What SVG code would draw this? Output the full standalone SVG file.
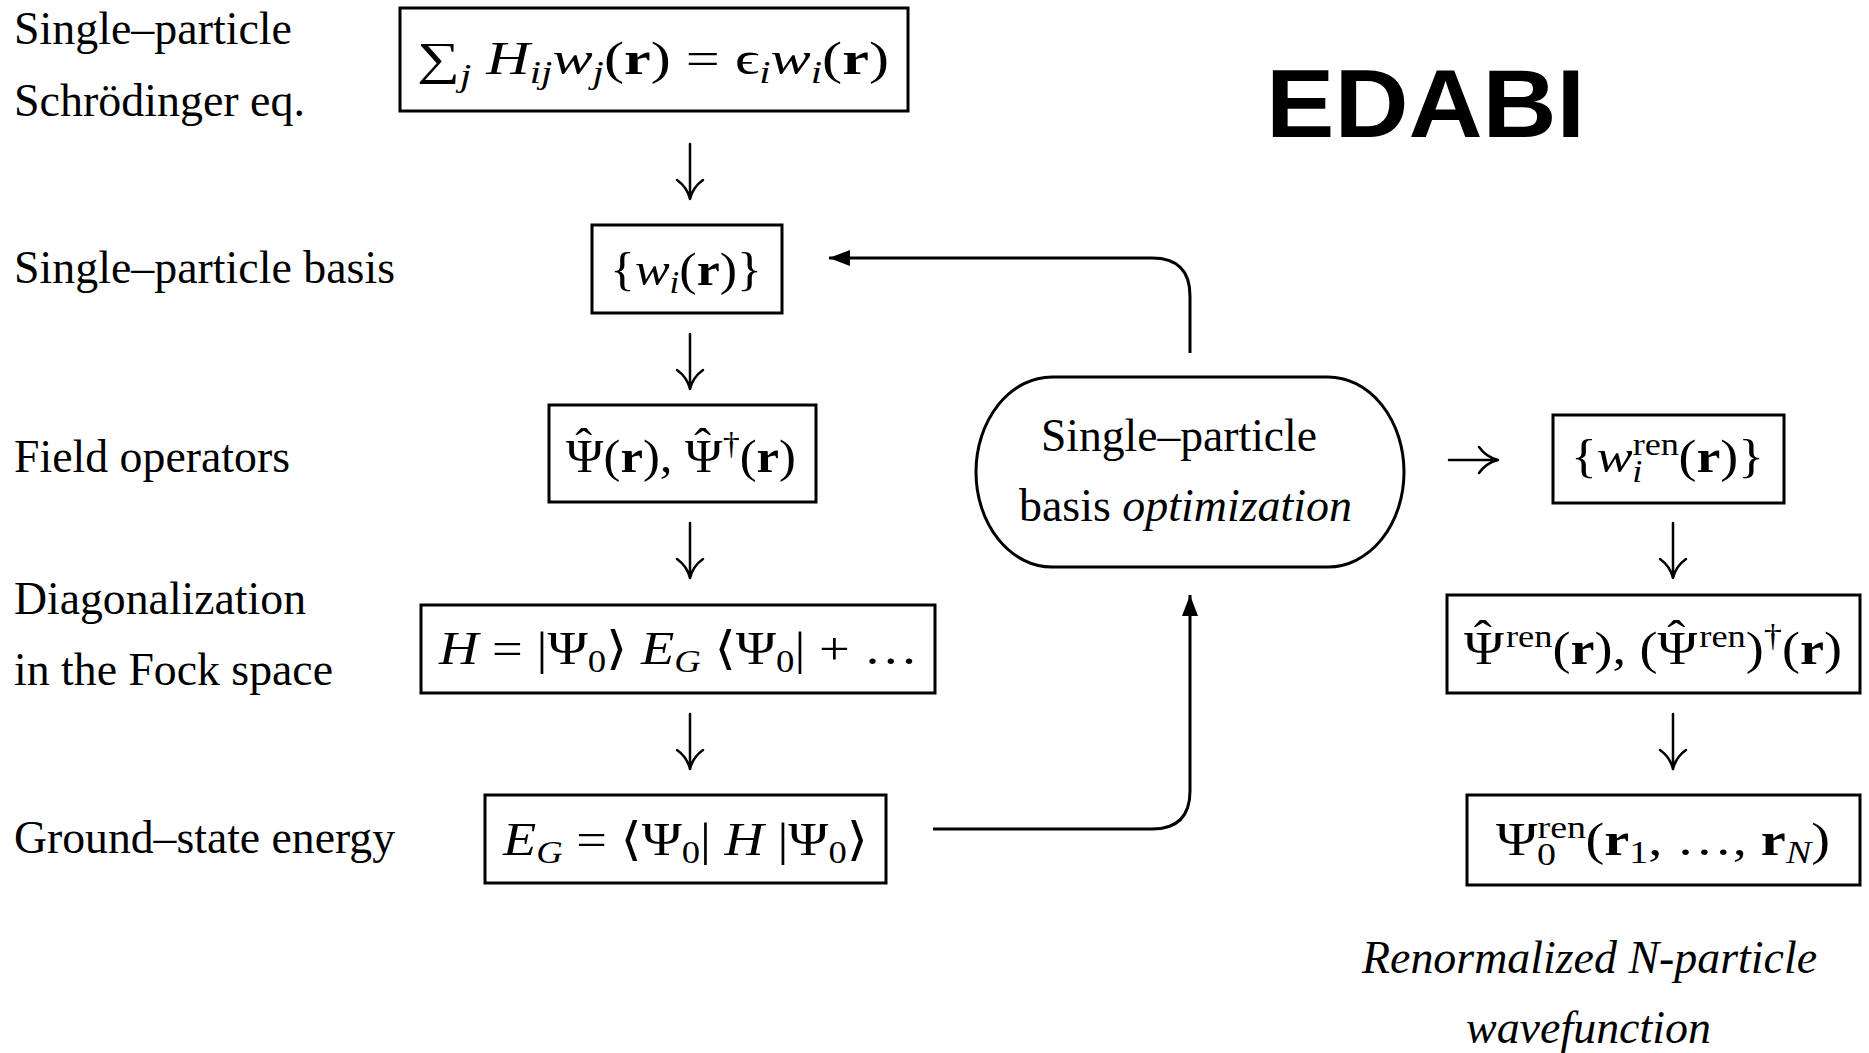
<svg xmlns="http://www.w3.org/2000/svg" width="1869" height="1053" viewBox="0 0 1869 1053">
<style>
.lbl{font-family:'Liberation Serif','Times New Roman',serif;font-size:46px;fill:#000}
.m{font-family:'Liberation Serif','DejaVu Serif',serif;font-size:46px;fill:#000}
.it{font-style:italic}
.b{font-weight:bold}
.s{font-size:31px}
.box{fill:#fff;stroke:#000;stroke-width:3}
.con{fill:none;stroke:#000;stroke-width:3}
.tarr{fill:none;stroke:#000;stroke-width:2.5;stroke-linecap:round}
.title{font-family:'Liberation Sans',Arial,sans-serif;font-weight:bold;font-size:96px;fill:#000}
</style>
<defs>
<path id="da" class="tarr" d="M0,-55 V0 M-13,-19 Q-3,-12 0,0 M13,-19 Q3,-12 0,0"/>
<marker id="ah" markerUnits="userSpaceOnUse" markerWidth="24" markerHeight="18" refX="21" refY="8" orient="auto"><path d="M0,0 L21,8 L0,16 z" fill="#000"/></marker>
</defs>
<rect width="1869" height="1053" fill="#fff"/>

<g id="labels">
<text class="lbl" x="14" y="44" textLength="278" lengthAdjust="spacingAndGlyphs">Single–particle</text>
<text class="lbl" x="14" y="116" textLength="291" lengthAdjust="spacingAndGlyphs">Schrödinger eq.</text>
<text class="lbl" x="14" y="283" textLength="381" lengthAdjust="spacingAndGlyphs">Single–particle basis</text>
<text class="lbl" x="14" y="472" textLength="276" lengthAdjust="spacingAndGlyphs">Field operators</text>
<text class="lbl" x="14" y="614" textLength="292" lengthAdjust="spacingAndGlyphs">Diagonalization</text>
<text class="lbl" x="14" y="685" textLength="319" lengthAdjust="spacingAndGlyphs">in the Fock space</text>
<text class="lbl" x="14" y="853" textLength="381" lengthAdjust="spacingAndGlyphs">Ground–state energy</text>
</g>

<g id="title"><text class="title" x="1266" y="137" textLength="319" lengthAdjust="spacingAndGlyphs">EDABI</text></g>

<g id="n-schrodinger">
<rect class="box" x="400" y="8" width="508" height="103"/>
<text class="m" x="417" y="74" textLength="472" lengthAdjust="spacingAndGlyphs">∑<tspan class="it s" dy="12">j</tspan><tspan class="it" dy="-12"> H</tspan><tspan class="it s" dy="9">ij</tspan><tspan class="it" dy="-9">w</tspan><tspan class="it s" dy="9">j</tspan><tspan dy="-9">(</tspan><tspan class="b">r</tspan>) = ϵ<tspan class="it s" dy="9">i</tspan><tspan class="it" dy="-9">w</tspan><tspan class="it s" dy="9">i</tspan><tspan dy="-9">(</tspan><tspan class="b">r</tspan>)</text>
</g>

<g id="n-basis">
<rect class="box" x="592" y="225" width="190" height="88"/>
<text class="m" x="610" y="285" textLength="152" lengthAdjust="spacingAndGlyphs">{<tspan class="it">w</tspan><tspan class="it s" dy="8">i</tspan><tspan dy="-8">(</tspan><tspan class="b">r</tspan>)}</text>
</g>

<g id="n-field">
<rect class="box" x="549" y="405" width="267" height="97"/>
<text class="m" x="566" y="472" textLength="230" lengthAdjust="spacingAndGlyphs">Ψ<tspan dx="-25.6" dy="-11">ˆ</tspan><tspan dx="10.4" dy="11">(</tspan><tspan class="b">r</tspan>), Ψ<tspan dx="-25.6" dy="-11">ˆ</tspan><tspan class="s" dx="10.4" dy="-7">†</tspan><tspan dy="18">(</tspan><tspan class="b">r</tspan>)</text>
</g>

<g id="n-diag">
<rect class="box" x="421" y="605" width="514" height="88"/>
<text class="m" x="439" y="664" textLength="479" lengthAdjust="spacingAndGlyphs"><tspan class="it">H</tspan> = |Ψ<tspan class="s" dy="8">0</tspan><tspan dy="-8">⟩ </tspan><tspan class="it">E</tspan><tspan class="it s" dy="8">G</tspan><tspan dy="-8"> ⟨Ψ</tspan><tspan class="s" dy="8">0</tspan><tspan dy="-8">| + …</tspan></text>
</g>

<g id="n-energy">
<rect class="box" x="485" y="795" width="401" height="88"/>
<text class="m" x="503" y="855" textLength="365" lengthAdjust="spacingAndGlyphs"><tspan class="it">E</tspan><tspan class="it s" dy="8">G</tspan><tspan dy="-8"> = ⟨Ψ</tspan><tspan class="s" dy="8">0</tspan><tspan dy="-8">| </tspan><tspan class="it">H</tspan> |Ψ<tspan class="s" dy="8">0</tspan><tspan dy="-8">⟩</tspan></text>
</g>

<g id="n-opt">
<path class="box" d="M1052,377 H1328 A76,95 0 0 1 1328,567 H1052 A76,95 0 0 1 1052,377 Z"/>
<text class="lbl" x="1041" y="451" textLength="276" lengthAdjust="spacingAndGlyphs">Single–particle</text>
<text class="lbl" x="1019" y="521" textLength="333" lengthAdjust="spacingAndGlyphs">basis <tspan class="it">optimization</tspan></text>
</g>

<g id="n-basis-ren">
<rect class="box" x="1553" y="415" width="231" height="88"/>
<text class="m" x="1571" y="472" textLength="193" lengthAdjust="spacingAndGlyphs">{<tspan class="it">w</tspan><tspan class="s" dy="-17">ren</tspan><tspan class="it s" dx="-40" dy="27">i</tspan><tspan dx="31" dy="-10">(</tspan><tspan class="b">r</tspan>)}</text>
</g>

<g id="n-field-ren">
<rect class="box" x="1447" y="595" width="413" height="98"/>
<text class="m" x="1464" y="664" textLength="378" lengthAdjust="spacingAndGlyphs">Ψ<tspan dx="-25.6" dy="-11">ˆ</tspan><tspan class="s" dx="12" dy="-6">ren</tspan><tspan dy="17">(</tspan><tspan class="b">r</tspan>), (Ψ<tspan dx="-25.6" dy="-11">ˆ</tspan><tspan class="s" dx="12" dy="-6">ren</tspan><tspan dy="17">)</tspan><tspan class="s" dy="-18">†</tspan><tspan dy="18">(</tspan><tspan class="b">r</tspan>)</text>
</g>

<g id="n-wave-ren">
<rect class="box" x="1467" y="795" width="393" height="90"/>
<text class="m" x="1496" y="855" textLength="334" lengthAdjust="spacingAndGlyphs">Ψ<tspan class="s" dy="-17">ren</tspan><tspan class="s" dx="-40" dy="27">0</tspan><tspan dx="24" dy="-10">(</tspan><tspan class="b">r</tspan><tspan class="s" dy="8">1</tspan><tspan dy="-8">, …, </tspan><tspan class="b">r</tspan><tspan class="it s" dy="8">N</tspan><tspan dy="-8">)</tspan></text>
</g>

<g id="caption">
<text class="lbl it" x="1362" y="973" textLength="455" lengthAdjust="spacingAndGlyphs">Renormalized N-particle</text>
<text class="lbl it" x="1466" y="1043" textLength="245" lengthAdjust="spacingAndGlyphs">wavefunction</text>
</g>

<g id="connectors">
<use href="#da" x="690" y="199"/>
<use href="#da" x="690" y="389"/>
<use href="#da" x="690" y="578"/>
<use href="#da" x="690" y="769"/>
<use href="#da" x="1673" y="578"/>
<use href="#da" x="1673" y="769"/>
<path class="tarr" d="M1449,460 H1498 M1479,447 Q1486,457 1498,460 M1479,473 Q1486,463 1498,460"/>
<path class="con" d="M1190,353 V296 Q1190,258 1152,258 H829" marker-end="url(#ah)"/>
<path class="con" d="M933,829 H1152 Q1190,829 1190,791 V595" marker-end="url(#ah)"/>
</g>
</svg>
